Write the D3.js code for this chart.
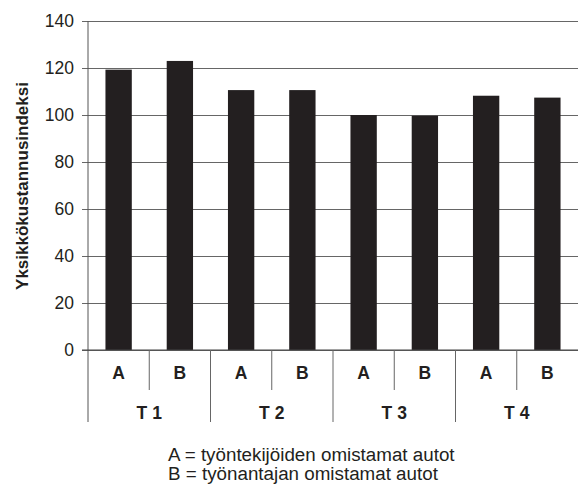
<!DOCTYPE html>
<html><head><meta charset="utf-8">
<script src="https://cdn.jsdelivr.net/npm/d3@7"></script>
<style>body{margin:0;background:#fff;} svg{display:block;}</style>
</head><body>
<script>
const groups = ["T 1", "T 2", "T 3", "T 4"];
const subcats = ["A", "B"];
const valuesA = [119.3, 110.6, 100, 108.2];
const valuesB = [123.0, 110.6, 99.7, 107.4];
const yTicks = [0, 20, 40, 60, 80, 100, 120, 140];
const yTitle = "Yksikkökustannusindeksi";
const legendLines = ["A = työntekijöiden omistamat autot", "B = työnantajan omistamat autot"];

(function () {
const W = 578, H = 484;
const mLeft = 88, mRight = 578, mTop = 21, mBottom = 350;
const svg = d3.select("body").append("svg").attr("width", W).attr("height", H)
  .style("font-family", "'Liberation Sans', Arial, sans-serif");

const slots = [];
groups.forEach((g, gi) => subcats.forEach((s, si) => slots.push({g, s, key: g + "|" + s, v: si === 0 ? valuesA[gi] : valuesB[gi]})));

const x = d3.scaleBand().domain(slots.map(d => d.key)).range([mLeft, mRight]).paddingInner(0.57).paddingOuter(0.285);
const xg = d3.scaleBand().domain(groups).range([mLeft, mRight]);
const y = d3.scaleLinear().domain([0, 140]).range([mBottom, mTop]);

// gridlines + ticks
const yAxis = d3.axisLeft(y).tickValues(yTicks).tickSize(-(mRight - mLeft)).tickPadding(8).tickFormat(d3.format("d"));
const ga = svg.append("g").attr("transform", `translate(${mLeft},0)`).call(yAxis);
ga.select(".domain").remove();
ga.selectAll(".tick line").attr("stroke", "#666").attr("stroke-width", 1).attr("x1", -6);
ga.selectAll(".tick text").attr("font-size", 17.5).attr("fill", "#231f20").attr("x", -14);

// bars
svg.append("g").selectAll("rect").data(slots).join("rect")
  .attr("x", d => x(d.key)).attr("width", x.bandwidth())
  .attr("y", d => y(d.v)).attr("height", d => y(0) - y(d.v))
  .attr("fill", "#231f20");

// axes lines
svg.append("line").attr("x1", mLeft).attr("x2", mLeft).attr("y1", mTop).attr("y2", 422).attr("stroke", "#555");
svg.append("line").attr("x1", mLeft - 6).attr("x2", mRight).attr("y1", mBottom).attr("y2", mBottom).attr("stroke", "#444");

// sub-category separators
const step = xg.bandwidth() / 2;
groups.forEach(g => {
  svg.append("line").attr("x1", xg(g) + step).attr("x2", xg(g) + step).attr("y1", mBottom).attr("y2", 390).attr("stroke", "#666");
});
groups.slice(1).forEach(g => {
  svg.append("line").attr("x1", xg(g)).attr("x2", xg(g)).attr("y1", mBottom).attr("y2", 422).attr("stroke", "#666");
});

// sub labels
svg.append("g").selectAll("text").data(slots).join("text")
  .attr("x", d => xg(d.g) + (d.s === "A" ? 0.5 : 1.5) * step)
  .attr("y", 379).attr("text-anchor", "middle")
  .attr("font-size", 17.5).attr("font-weight", "bold").attr("fill", "#231f20")
  .text(d => d.s);
// group labels
svg.append("g").selectAll("text").data(groups).join("text")
  .attr("x", d => xg(d) + xg.bandwidth() / 2).attr("y", 419).attr("text-anchor", "middle")
  .attr("font-size", 17.5).attr("font-weight", "bold").attr("fill", "#231f20")
  .text(d => d);

// y title
svg.append("text").attr("transform", "translate(28,186) rotate(-90)").attr("text-anchor", "middle")
  .attr("font-size", 17).attr("font-weight", "bold").attr("fill", "#231f20").text(yTitle);

// legend
svg.append("g").selectAll("text").data(legendLines).join("text")
  .attr("x", 168).attr("y", (d, i) => 461 + i * 19)
  .attr("font-size", 18.8).attr("fill", "#231f20").text(d => d);
})();
</script>
</body></html>
